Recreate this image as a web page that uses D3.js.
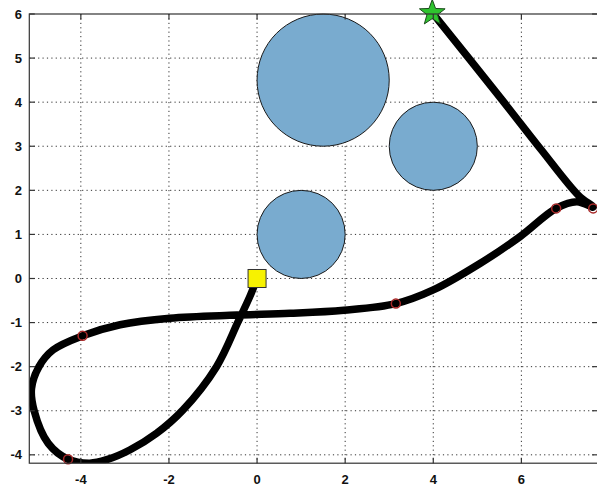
<!DOCTYPE html>
<html>
<head>
<meta charset="utf-8">
<script src="https://cdn.jsdelivr.net/npm/d3@7/dist/d3.min.js"></script>
<style>
  html, body { margin: 0; padding: 0; background: #fff; }
  svg { display: block; }
  .tick-label { font-family: "Liberation Sans", Arial, sans-serif; font-weight: bold; font-size: 13px; fill: #111; }
</style>
</head>
<body>
<svg id="chart" width="597" height="493"></svg>
<script>
// Axis ticks
const xTicks = [-4, -2, 0, 2, 4, 6];
const yTicks = [-4, -3, -2, -1, 0, 1, 2, 3, 4, 5, 6];

// Circular obstacles: centre x, centre y, radius
const obstacleX = [1.5, 4, 1];
const obstacleY = [4.5, 3, 1];
const obstacleR = [1.5, 1, 1];

// Trajectory from the start (square) to the goal (star)
const pathX = [0, -0.16, -0.43, -0.92, -1.68, -2.28, -2.89, -3.41, -3.80, -4.29, -4.74, -5.06, -5.12, -4.95, -4.63, -3.96, -3.11, -1.98, -0.46, 0.75, 1.97, 3.15, 4.00, 5.06, 5.97, 6.79, 7.26, 7.63, 7.30, 6.45, 5.57, 4.00];
const pathY = [0, -0.40, -0.98, -2.00, -2.98, -3.51, -3.89, -4.11, -4.19, -4.10, -3.74, -3.00, -2.50, -2.00, -1.62, -1.30, -1.05, -0.90, -0.83, -0.79, -0.72, -0.57, -0.26, 0.34, 0.95, 1.59, 1.74, 1.62, 1.88, 2.92, 4.04, 6.00];

// Waypoint markers along the trajectory
const waypointX = [-3.96, -4.29, 3.15, 6.79, 7.63];
const waypointY = [-1.30, -4.10, -0.57, 1.59, 1.59];

// Start and goal
const startPt = [0, 0];
const goalPt = [4, 6];

const svg = d3.select("#chart");
const plotL = 29.3, plotR = 597.6, plotT = 14, plotB = 463.2;

const x = d3.scaleLinear().domain([-5.17, 7.73]).range([plotL, plotR]);
const y = d3.scaleLinear().domain([-4.19, 6]).range([plotB, plotT]);

svg.append("defs").append("clipPath").attr("id", "plotClip")
  .append("rect").attr("x", plotL).attr("y", plotT)
  .attr("width", plotR - plotL).attr("height", plotB - plotT);

// Dotted grid
const grid = svg.append("g").attr("stroke", "#333").attr("stroke-width", 1)
  .attr("stroke-dasharray", "1.2,3.2");
grid.selectAll("line.v").data(xTicks).join("line").attr("class", "v")
  .attr("x1", d => x(d)).attr("x2", d => x(d)).attr("y1", plotT).attr("y2", plotB);
grid.selectAll("line.h").data(yTicks.filter(d => d > -4.19 && d < 6)).join("line").attr("class", "h")
  .attr("y1", d => y(d)).attr("y2", d => y(d)).attr("x1", plotL).attr("x2", plotR);

// Obstacles
const obstacles = obstacleX.map((cx, i) => ({ cx, cy: obstacleY[i], r: obstacleR[i] }));
svg.append("g").selectAll("circle").data(obstacles).join("circle")
  .attr("cx", d => x(d.cx)).attr("cy", d => y(d.cy))
  .attr("r", d => x(d.r) - x(0))
  .attr("fill", "#79abcf").attr("stroke", "#1a1a1a").attr("stroke-width", 1);

// Trajectory
const pts = pathX.map((v, i) => [v, pathY[i]]);
const line = d3.line().x(d => x(d[0])).y(d => y(d[1])).curve(d3.curveCatmullRom.alpha(0.5));
svg.append("path").attr("clip-path", "url(#plotClip)")
  .attr("d", line(pts)).attr("fill", "none").attr("stroke", "#000")
  .attr("stroke-width", 7.5).attr("stroke-linejoin", "round").attr("stroke-linecap", "round");

// Waypoints
svg.append("g").selectAll("circle").data(waypointX.map((v, i) => [v, waypointY[i]])).join("circle")
  .attr("cx", d => x(d[0])).attr("cy", d => y(d[1])).attr("r", 4.5)
  .attr("fill", "none").attr("stroke", "#a82828").attr("stroke-width", 1.5);

// Start square
const sq = 18;
svg.append("rect")
  .attr("x", x(startPt[0]) - sq / 2).attr("y", y(startPt[1]) - sq / 2)
  .attr("width", sq).attr("height", sq)
  .attr("fill", "#f7f200").attr("stroke", "#333").attr("stroke-width", 1);

// Goal star (pentagram)
function starPath(cx, cy, R, r) {
  const p = [];
  for (let i = 0; i < 10; i++) {
    const a = -Math.PI / 2 + i * Math.PI / 5;
    const rad = i % 2 === 0 ? R : r;
    p.push([cx + rad * Math.cos(a), cy + rad * Math.sin(a)]);
  }
  return "M" + p.map(q => q.join(",")).join("L") + "Z";
}
svg.append("path").attr("d", starPath(x(goalPt[0]) - 1, y(goalPt[1]) - 1, 13.5, 5.6))
  .attr("fill", "#2ec42e").attr("stroke", "#1b4a1b").attr("stroke-width", 1);

// Axes box with inward ticks on all sides
const ax = svg.append("g").attr("stroke", "#333").attr("stroke-width", 1.2).attr("fill", "none");
ax.append("rect").attr("x", plotL).attr("y", plotT).attr("width", plotR - plotL).attr("height", plotB - plotT);
const tl = 5.5;
xTicks.forEach(d => {
  ax.append("line").attr("x1", x(d)).attr("x2", x(d)).attr("y1", plotB).attr("y2", plotB - tl);
  ax.append("line").attr("x1", x(d)).attr("x2", x(d)).attr("y1", plotT).attr("y2", plotT + tl);
});
yTicks.forEach(d => {
  ax.append("line").attr("y1", y(d)).attr("y2", y(d)).attr("x1", plotL).attr("x2", plotL + tl);
  ax.append("line").attr("y1", y(d)).attr("y2", y(d)).attr("x1", plotR).attr("x2", plotR - tl);
});

// Tick labels
svg.append("g").selectAll("text").data(xTicks).join("text").attr("class", "tick-label")
  .attr("x", d => x(d)).attr("y", 484).attr("text-anchor", "middle").text(d => d);
svg.append("g").selectAll("text").data(yTicks).join("text").attr("class", "tick-label")
  .attr("x", 22).attr("y", d => y(d) + 4.5).attr("text-anchor", "end").text(d => d);
</script>
</body>
</html>
